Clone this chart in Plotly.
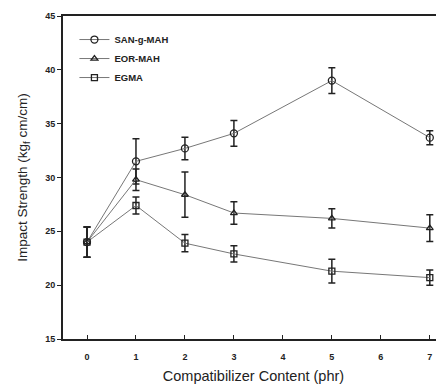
import plotly.graph_objects as go

x = [0, 1, 2, 3, 5, 7]
san = [24.0, 31.5, 32.7, 34.1, 39.0, 33.7]
san_err = [1.4, 2.1, 1.05, 1.2, 1.2, 0.65]
eor = [24.0, 29.8, 28.4, 26.7, 26.2, 25.3]
eor_err = [1.4, 1.0, 2.1, 1.05, 0.9, 1.25]
egma = [24.0, 27.4, 23.9, 22.9, 21.3, 20.7]
egma_err = [1.4, 0.8, 0.8, 0.75, 1.1, 0.7]
names = ["SAN-g-MAH", "EOR-MAH", "EGMA"]
symbols = ["circle-open", "triangle-up-open", "square-open"]
sizes = [7, 6, 6]

FONT = "Liberation Sans, Arial, sans-serif"

fig = go.Figure()
for name, ys, es, sym, sz in zip(names, [san, eor, egma], [san_err, eor_err, egma_err], symbols, sizes):
    fig.add_trace(go.Scatter(
        x=x, y=ys, name="<b>" + name + "</b>", mode="lines+markers",
        line=dict(color="#777777", width=1),
        marker=dict(symbol=sym, size=sz, color="#222222", line=dict(width=1.3, color="#222222")),
        error_y=dict(type="data", array=es, visible=True, color="#222222", thickness=1.5, width=3.5),
    ))

fig.update_layout(
    width=436, height=381,
    margin=dict(l=55, r=0, t=8, b=50),
    plot_bgcolor="white", paper_bgcolor="white",
    font=dict(family=FONT, color="#222222"),
    showlegend=True,
    legend=dict(x=0.03, y=0.972, xanchor="left", yanchor="top",
                font=dict(size=9.5, family=FONT, color="#222222"),
                bgcolor="rgba(0,0,0,0)", itemwidth=30, tracegroupgap=0),
    xaxis=dict(range=[-0.49, 7.29], tickmode="array", tickvals=[0, 1, 2, 3, 4, 5, 6, 7],
               ticktext=["<b>%d</b>" % v for v in range(8)],
               ticks="inside", ticklen=4, tickcolor="#222222", tickwidth=1,
               ticklabelstandoff=8,
               showline=True, linecolor="#222222", linewidth=2, mirror=True,
               showgrid=False, zeroline=False,
               tickfont=dict(size=9, family=FONT),
               title=dict(text="Compatibilizer Content (phr)", font=dict(size=14.5, family=FONT), standoff=10)),
    yaxis=dict(range=[15, 45], tickmode="array", tickvals=[15, 20, 25, 30, 35, 40, 45],
               ticktext=["<b>%d</b>" % v for v in [15, 20, 25, 30, 35, 40, 45]],
               ticks="outside", ticklen=4, tickcolor="#222222", tickwidth=1,
               showline=True, linecolor="#222222", linewidth=2,
               showgrid=False, zeroline=False,
               tickfont=dict(size=9, family=FONT),
               title=dict(text="Impact Strength (kg<sub>f</sub> cm/cm)", font=dict(size=13.5, family=FONT), standoff=14)),
)

fig.write_html("out.html")
